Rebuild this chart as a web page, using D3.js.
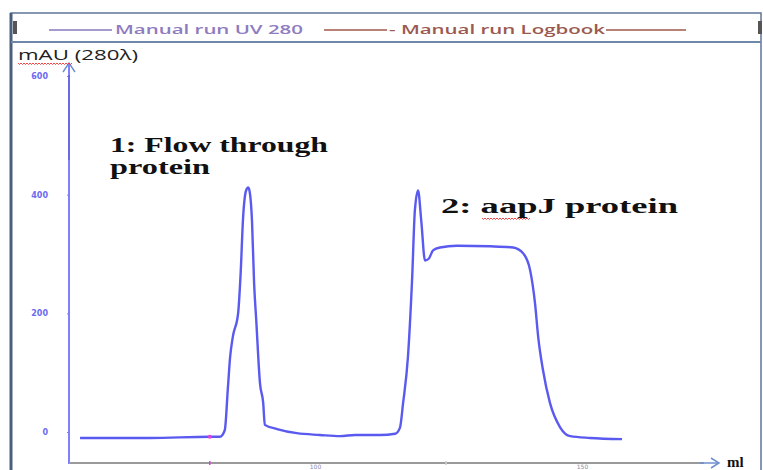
<!DOCTYPE html>
<html>
<head>
<meta charset="utf-8">
<script src="https://cdn.jsdelivr.net/npm/d3@7"></script>
<style>
  body { margin: 0; background: #fff; }
  svg { display: block; }
</style>
</head>
<body>
<svg id="canvas" width="763" height="470"></svg>
<script>
// elution volume (ml) and UV 280 absorbance (mAU)
var volume = [56.0, 69.1, 80.3, 82.2, 83.1, 83.7, 84.1, 84.6, 85.6, 86.1, 86.5, 87.1, 87.5, 87.8,
	88.2, 88.6, 89.0, 89.7, 90.3, 90.6, 92.9, 96.6, 100.9, 104.7, 107.5, 112.2, 115.0, 115.9,
	116.5, 117.4, 118.2, 118.7, 119.3, 119.9, 120.6, 121.3, 122.1, 123.4, 126.6, 132.8, 137.1,
	139.0, 140.3, 141.2, 141.8, 142.7, 144.0, 145.9, 147.8, 151.5, 157.5];
var absorbance = [-10, -10, -8, -8, 3, 76, 126, 160, 200, 272, 356, 407, 412, 403,
	356, 250, 188, 82, 49, 12, 5, -2, -5, -7, -5, -5, -3, 7,
	49, 126, 261, 373, 407, 356, 289, 292, 306, 311, 314, 313, 311,
	301, 272, 217, 160, 104, 49, 8, -7, -10, -12];

var yTicks = [0, 200, 400, 600];
var xTicks = [100, 150];
var legendItems = ["Manual run UV 280", "- Manual run Logbook"];
var peakLabels = [["1: Flow  through", "protein"], ["2: aapJ protein"]];

var svg = d3.select("#canvas");

var x = d3.scaleLinear().domain([100, 150]).range([315, 582]);
var y = d3.scaleLinear().domain([0, 600]).range([432, 76]);

// frame
svg.append("rect").attr("x", 11).attr("y", 13).attr("width", 750).attr("height", 470)
	.attr("fill", "none").attr("stroke", "#5d7696").attr("stroke-width", 1.5);
svg.append("line").attr("x1", 11).attr("x2", 11).attr("y1", 13).attr("y2", 470)
	.attr("stroke", "#4a5f7c").attr("stroke-width", 3);
svg.append("line").attr("x1", 11).attr("x2", 761).attr("y1", 42).attr("y2", 42)
	.attr("stroke", "#6f87a8").attr("stroke-width", 2);
svg.append("rect").attr("x", 13).attr("y", 21).attr("width", 4).attr("height", 13).attr("fill", "#555");
svg.append("rect").attr("x", 758).attr("y", 21).attr("width", 4).attr("height", 13).attr("fill", "#555");

// legend
var legend = svg.append("g").attr("font-family", "Open Sans, sans-serif")
	.attr("font-size", 12).attr("font-weight", 600);
legend.append("line").attr("x1", 49).attr("x2", 112).attr("y1", 30).attr("y2", 30)
	.attr("stroke", "#8a78bf").attr("stroke-width", 1.5);
legend.append("text").attr("x", 115).attr("y", 34).attr("fill", "#8f7cc0")
	.attr("textLength", 188).attr("lengthAdjust", "spacingAndGlyphs").text(legendItems[0]);
legend.append("line").attr("x1", 324).attr("x2", 387).attr("y1", 30).attr("y2", 30)
	.attr("stroke", "#a0584a").attr("stroke-width", 1.5);
legend.append("text").attr("x", 389).attr("y", 34).attr("fill", "#9a5a50")
	.attr("textLength", 216).attr("lengthAdjust", "spacingAndGlyphs").text(legendItems[1]);
legend.append("line").attr("x1", 606).attr("x2", 686).attr("y1", 30).attr("y2", 30)
	.attr("stroke", "#a0584a").attr("stroke-width", 1.5);

// y axis
var yAxis = svg.append("g").attr("transform", "translate(69,0)")
	.call(d3.axisLeft(y).tickValues(yTicks).tickSize(2).tickPadding(19));
yAxis.select(".domain").remove();
yAxis.selectAll("line").attr("stroke", "#7f7ff5");
yAxis.selectAll("text").attr("fill", "#6b6bf0").attr("font-size", 8).attr("font-weight", "bold")
	.attr("font-family", "DejaVu Sans, sans-serif");
svg.append("line").attr("x1", 69).attr("x2", 69).attr("y1", 64).attr("y2", 464)
	.attr("stroke", "#8080ff").attr("stroke-width", 2);
svg.append("line").attr("x1", 69).attr("x2", 69).attr("y1", 75).attr("y2", 160)
	.attr("stroke", "#6a6ae8").attr("stroke-width", 2);
svg.append("path").attr("d", "M63,72 L69,63 L75,72").attr("fill", "none")
	.attr("stroke", "#6f8fcf").attr("stroke-width", 1.5);

// x axis
svg.append("line").attr("x1", 69).attr("x2", 704).attr("y1", 463).attr("y2", 463)
	.attr("stroke", "#9a9a9a").attr("stroke-width", 2);
svg.append("line").attr("x1", 700).attr("x2", 718).attr("y1", 463).attr("y2", 463)
	.attr("stroke", "#6f8fcf").attr("stroke-width", 1.5);
svg.append("path").attr("d", "M711,458 L719,463 L711,468").attr("fill", "none")
	.attr("stroke", "#6f8fcf").attr("stroke-width", 1.5);
var xAxis = svg.append("g").attr("transform", "translate(0,463)")
	.call(d3.axisBottom(x).tickValues(xTicks).tickSize(0).tickPadding(0));
xAxis.select(".domain").remove();
xAxis.selectAll("text").attr("dy", null).attr("y", 6).attr("fill", "#8a8aa8").attr("font-size", 6)
	.attr("font-family", "DejaVu Sans, sans-serif");
svg.append("line").attr("x1", x(80.3)).attr("x2", x(80.3)).attr("y1", 461).attr("y2", 465)
	.attr("stroke", "#e040e0").attr("stroke-width", 1.5);
svg.append("line").attr("x1", 446).attr("x2", 446).attr("y1", 461).attr("y2", 465)
	.attr("stroke", "#cfcfcf").attr("stroke-width", 1.5);

svg.append("text").attr("x", 727).attr("y", 467).attr("font-family", "Liberation Serif, serif")
	.attr("font-weight", "bold").attr("font-size", 15).attr("fill", "#111").text("ml");

// y title
svg.append("text").attr("x", 18).attr("y", 60).attr("font-family", "Open Sans, sans-serif")
	.attr("font-size", 14).attr("fill", "#222").attr("textLength", 120).attr("lengthAdjust", "spacingAndGlyphs")
	.text("mAU (280\u03bb)");
function squiggle(x0, x1, yy) {
	var d = "M" + x0 + "," + yy;
	for (var i = x0; i < x1; i += 3) d += " L" + (i + 1.5) + "," + (yy + 1.5) + " L" + (i + 3) + "," + yy;
	svg.append("path").attr("d", d).attr("fill", "none").attr("stroke", "#e33").attr("stroke-width", 0.9);
}
squiggle(18, 72, 63);

// trace
var line = d3.line()
	.x(function(d, i) { return x(volume[i]); })
	.y(function(d) { return y(d); })
	.curve(d3.curveMonotoneX);
svg.append("path").datum(absorbance).attr("d", line)
	.attr("fill", "none").attr("stroke", "#5a5af0").attr("stroke-width", 2.4)
	.attr("stroke-linejoin", "round");
svg.append("circle").attr("cx", x(80.3)).attr("cy", y(-8)).attr("r", 2).attr("fill", "#e040e0");

// peak labels
var lab = svg.append("g").attr("font-family", "Liberation Serif, serif")
	.attr("font-weight", "bold").attr("fill", "#111").attr("font-size", 20);
lab.append("text").attr("x", 110).attr("y", 152).attr("textLength", 218)
	.attr("lengthAdjust", "spacingAndGlyphs").text(peakLabels[0][0]);
lab.append("text").attr("x", 110).attr("y", 174).attr("textLength", 100)
	.attr("lengthAdjust", "spacingAndGlyphs").text(peakLabels[0][1]);
lab.append("text").attr("x", 441).attr("y", 213).attr("textLength", 237)
	.attr("lengthAdjust", "spacingAndGlyphs").text(peakLabels[1][0]);
squiggle(482, 528, 218);
</script>
</body>
</html>
